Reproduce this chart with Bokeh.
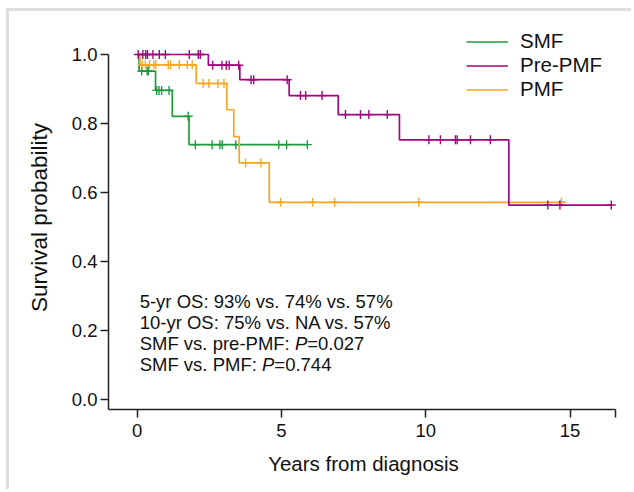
import numpy as np
from bokeh.plotting import figure
from bokeh.models import (FixedTicker, PrintfTickFormatter, Legend, LegendItem, Label)
from bokeh.embed import file_html
from bokeh.resources import INLINE

# ---- data ----
groups = ["SMF", "Pre-PMF", "PMF"]
colors = ["#1f9a3f", "#a1087f", "#f5a623"]

smf_event_t = [0.07, 0.64, 1.22, 1.80]
smf_event_s = [0.952, 0.896, 0.821, 0.739]
smf_end = 5.90
smf_cens = [0.16, 0.35, 0.39, 0.68, 0.76, 0.85, 1.11, 1.77, 2.02, 2.60, 2.87,
            2.95, 3.42, 4.91, 5.18, 5.90]

pre_event_t = [2.47, 3.56, 5.27, 6.97, 9.09, 12.88]
pre_event_s = [0.969, 0.927, 0.881, 0.826, 0.753, 0.564]
pre_end = 16.43
pre_cens = [0.04, 0.20, 0.30, 0.36, 0.55, 0.77, 0.98, 1.81, 2.12, 2.19, 2.62,
            2.94, 3.09, 3.19, 3.52, 3.95, 4.04, 5.20, 5.66, 5.84, 6.41, 7.22,
            7.74, 8.03, 8.67, 10.11, 10.51, 11.03, 11.09, 11.55, 12.24, 14.23,
            14.65, 16.43]

pmf_event_t = [0.10, 2.05, 3.11, 3.35, 3.54, 4.58]
pmf_event_s = [0.970, 0.916, 0.840, 0.762, 0.686, 0.572]
pmf_end = 14.78
pmf_cens = [0.18, 0.29, 0.43, 0.58, 0.65, 1.08, 1.16, 1.46, 1.74, 1.91, 2.29,
            2.49, 2.80, 3.01, 3.76, 4.29, 4.97, 6.08, 6.84, 9.76, 14.70]

x_ticks = [0, 5, 10, 15]
y_ticks = [0.0, 0.2, 0.4, 0.6, 0.8, 1.0]

annot_lines = [
    ["5-yr OS: 93% vs. 74% vs. 57%"],
    ["10-yr OS: 75% vs. NA vs. 57%"],
    ["SMF vs. pre-PMF: ", "P", "=0.027"],
    ["SMF vs. PMF: ", "P", "=0.744"],
]

FONT = "Liberation Sans"

# ---- figure ----
p = figure(width=625, height=481, output_backend="svg", toolbar_location=None,
           x_range=(-0.99, 16.68), y_range=(-0.028, 1.084),
           min_border_left=99, min_border_right=16, min_border_top=14,
           min_border_bottom=83)
p.styles = {"border-top": "3px solid #dedede", "border-left": "3px solid #dedede",
            "margin-top": "8px", "margin-left": "6px"}
p.grid.visible = False
p.outline_line_color = None
p.background_fill_color = "white"
p.border_fill_color = "white"

curves = [
    (smf_event_t, smf_event_s, smf_end, smf_cens),
    (pre_event_t, pre_event_s, pre_end, pre_cens),
    (pmf_event_t, pmf_event_s, pmf_end, pmf_cens),
]

renderers = {}
order = [0, 2, 1]
for i in order:
    et, es, end, cens = curves[i]
    xs = [0.0] + list(et) + [end]
    ys = [1.0] + list(es) + [es[-1]]
    r = p.step(xs, ys, mode="after", line_color=colors[i], line_width=1.7)
    renderers[i] = r
    levels = np.array([1.0] + list(es))
    idx = np.searchsorted(np.array(et), np.array(cens), side="right")
    cy = levels[idx]
    p.scatter(cens, cy, marker="cross", size=9, line_color=colors[i], line_width=1.4)

legend = Legend(items=[LegendItem(label=groups[i], renderers=[renderers[i]]) for i in range(3)],
                location=(358, 308), padding=0, spacing=0, margin=0,
                glyph_width=42, glyph_height=23, label_height=23, label_standoff=12,
                label_text_font_size="20.5px", label_text_font=FONT,
                label_text_color="#111111",
                border_line_alpha=0, background_fill_alpha=0)
p.add_layout(legend)

# ---- axes ----
for ax in (p.xaxis[0], p.yaxis[0]):
    ax.axis_line_color = "#222222"
    ax.axis_line_width = 1.5
    ax.major_tick_line_color = "#222222"
    ax.major_tick_line_width = 1.5
    ax.major_tick_out = 8
    ax.major_tick_in = 0
    ax.minor_tick_line_color = None
    ax.major_label_text_font = FONT
    ax.major_label_text_font_size = "18.5px"
    ax.major_label_text_color = "#111111"
    ax.axis_label_text_font = FONT
    ax.axis_label_text_font_style = "normal"
    ax.axis_label_text_color = "#111111"

p.xaxis.ticker = FixedTicker(ticks=x_ticks + [16.57])
p.xaxis.major_label_overrides = {16.57: ""}
p.xaxis.bounds = (-0.99, 16.57)
p.xaxis.axis_label = "Years from diagnosis"
p.xaxis.axis_label_text_font_size = "20.5px"
p.xaxis.major_label_standoff = 6
p.xaxis.axis_label_standoff = 12

p.yaxis.ticker = FixedTicker(ticks=y_ticks)
p.yaxis.formatter = PrintfTickFormatter(format="%.1f")
p.yaxis.bounds = (-0.028, 1.0)
p.yaxis.axis_label = "Survival probability"
p.yaxis.axis_label_text_font_size = "22.5px"
p.yaxis.major_label_standoff = 3
p.yaxis.axis_label_standoff = 17

# ---- annotation text ----
fs = 18.5
em = {"SMF vs. pre-PMF: ": 8.39, "SMF vs. PMF: ": 6.612, "P": 0.667}
line_y = [0.285, 0.223, 0.163, 0.102]
for y, parts in zip(line_y, annot_lines):
    off = 0.0
    for part in parts:
        lab = Label(x=0.09, y=y, x_offset=off, text=part, text_font=FONT,
                    text_font_size=f"{fs}px", text_baseline="middle",
                    text_color="#111111",
                    text_font_style="italic" if part == "P" else "normal")
        p.add_layout(lab)
        off += em.get(part, 0) * fs

open("out.html", "w").write(file_html(p, INLINE))
